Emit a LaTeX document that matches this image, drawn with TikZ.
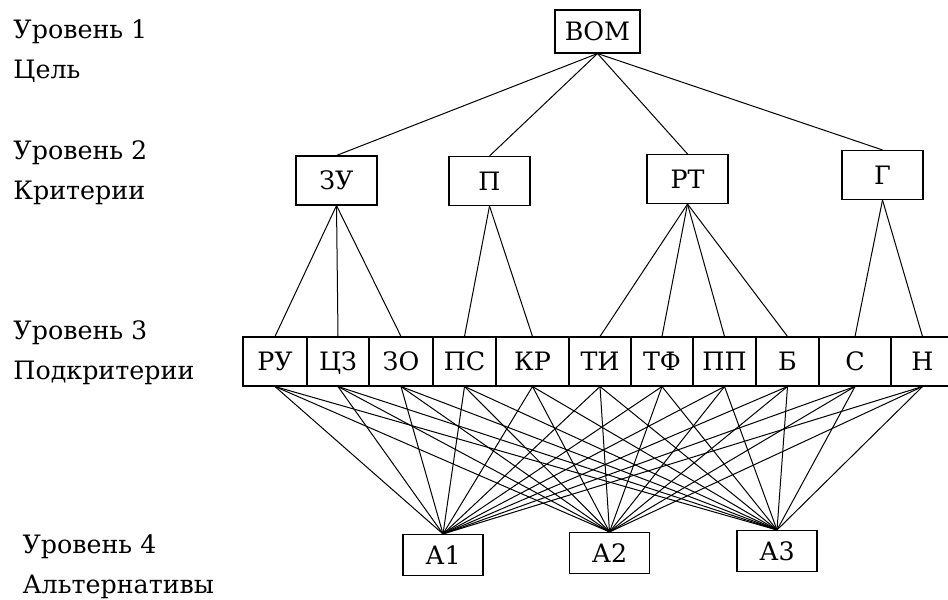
\documentclass[tikz,border=0pt]{standalone}
\usepackage{fontspec}
\setmainfont{DejaVu Serif}
\tikzset{
  crit/.style={draw, line width=0.8pt, inner sep=0pt, minimum height=36.75pt,
    text height=14pt, text depth=0pt, font=\fontsize{19}{22}\selectfont},
  level/.style={anchor=base west, inner sep=0pt, font=\fontsize{19}{22}\selectfont},
}
\begin{document}
\begin{tikzpicture}[x=0.75pt, y=-0.75pt, line width=0.75pt]
      \useasboundingbox (0,0) rectangle (948,599);
      % levels
      \node[level] (t1) at (13,39) {Уровень 1};
      \node[level] (c1) at (13,79) {Цель};
      \node[level] (t2) at (13,159) {Уровень 2};
      \node[level] (c2) at (13,199) {Критерии};
      \node[level] (t3) at (13,339) {Уровень 3};
      \node[level] (c3) at (13,379) {Подкритерии};
      \node[level] (t4) at (22,553) {Уровень 4};
      \node[level] (c4) at (22,593) {Альтернативы};
      % goal
      \node[crit, minimum width=63.75pt, minimum height=32.25pt] (vom) at (597.5,31.5) {ВОМ};
      % criteria
      \node[crit, minimum width=60.75pt] (zu) at (336.5,180.5) {ЗУ};
      \node[crit, minimum width=60.75pt] (p) at (489.5,181) {П};
      \node[crit, minimum width=60.75pt] (rt) at (687.5,179) {РТ};
      \node[crit, minimum width=60.75pt] (g) at (882.5,175) {Г};
      % subcriteria
      \node[crit, minimum width=48pt] (ru) at (275,361.5) {РУ};
      \node[crit, minimum width=46.5pt] (cz) at (338,361.5) {ЦЗ};
      \node[crit, minimum width=48pt] (zo) at (401,361.5) {ЗО};
      \node[crit, minimum width=47.25pt] (ps) at (464.5,361.5) {ПС};
      \node[crit, minimum width=54.75pt] (kr) at (532.5,361.5) {КР};
      \node[crit, minimum width=46.5pt] (ti) at (600,361.5) {ТИ};
      \node[crit, minimum width=46.5pt] (tf) at (662,361.5) {ТФ};
      \node[crit, minimum width=47.25pt] (pp) at (724.5,361.5) {ПП};
      \node[crit, minimum width=47.25pt] (b) at (787.5,361.5) {Б};
      \node[crit, minimum width=54pt] (s) at (855,361.5) {С};
      \node[crit, minimum width=47.25pt] (n) at (922.5,361.5) {Н};
      % alternatives
      \node[crit, minimum width=60pt, minimum height=30.75pt] (a1) at (443,555) {А1};
      \node[crit, minimum width=60pt, minimum height=30.75pt] (a2) at (609.5,553) {А2};
      \node[crit, minimum width=60pt, minimum height=30.75pt] (a3) at (777,551) {А3};
      \begin{scope}[-]
        \draw (vom.south) to (zu.north);
        \draw (vom.south) to (p.north);
        \draw (vom.south) to (rt.north);
        \draw (vom.south) to (g.north);
        \draw (zu.south) to (ru.north);
        \draw (zu.south) to (cz.north);
        \draw (zu.south) to (zo.north);
        \draw (p.south) to (ps.north);
        \draw (p.south) to (kr.north);
        \draw (rt.south) to (ti.north);
        \draw (rt.south) to (tf.north);
        \draw (rt.south) to (pp.north);
        \draw (rt.south) to (b.north);
        \draw (g.south) to (s.north);
        \draw (g.south) to (n.north);
        \draw (ru.south) to (a1.north);
        \draw (ru.south) to (a2.north);
        \draw (ru.south) to (a3.north);
        \draw (cz.south) to (a1.north);
        \draw (cz.south) to (a2.north);
        \draw (cz.south) to (a3.north);
        \draw (zo.south) to (a1.north);
        \draw (zo.south) to (a2.north);
        \draw (zo.south) to (a3.north);
        \draw (ps.south) to (a1.north);
        \draw (ps.south) to (a2.north);
        \draw (ps.south) to (a3.north);
        \draw (kr.south) to (a1.north);
        \draw (kr.south) to (a2.north);
        \draw (kr.south) to (a3.north);
        \draw (ti.south) to (a1.north);
        \draw (ti.south) to (a2.north);
        \draw (ti.south) to (a3.north);
        \draw (tf.south) to (a1.north);
        \draw (tf.south) to (a2.north);
        \draw (tf.south) to (a3.north);
        \draw (pp.south) to (a1.north);
        \draw (pp.south) to (a2.north);
        \draw (pp.south) to (a3.north);
        \draw (b.south) to (a1.north);
        \draw (b.south) to (a2.north);
        \draw (b.south) to (a3.north);
        \draw (s.south) to (a1.north);
        \draw (s.south) to (a2.north);
        \draw (s.south) to (a3.north);
        \draw (n.south) to (a1.north);
        \draw (n.south) to (a2.north);
        \draw (n.south) to (a3.north);
      \end{scope}
    \end{tikzpicture}
\end{document}
